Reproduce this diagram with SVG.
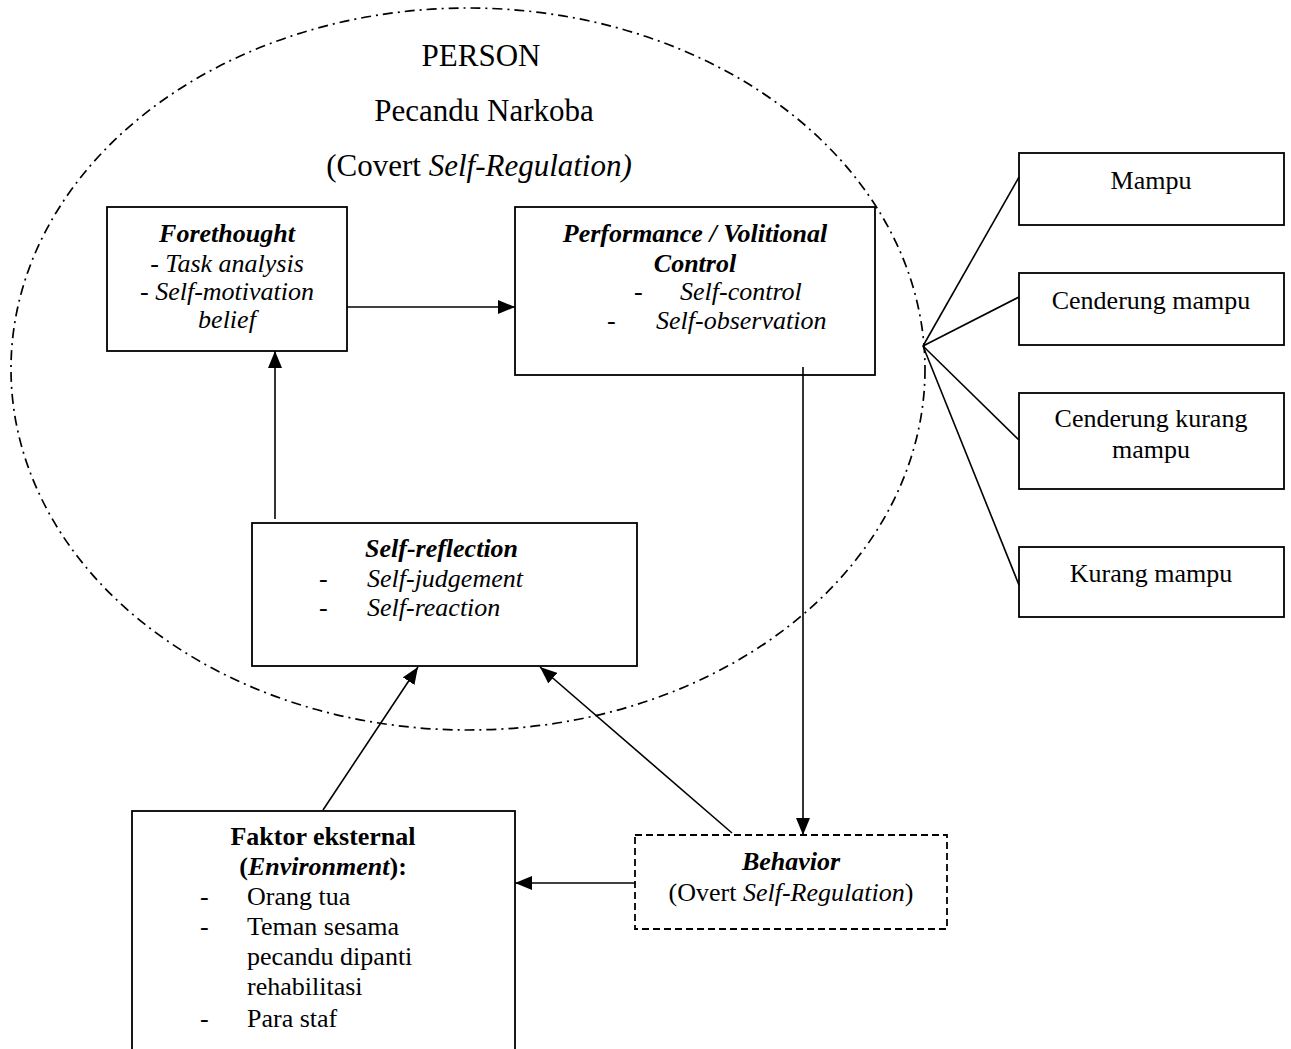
<svg xmlns="http://www.w3.org/2000/svg" width="1291" height="1049" viewBox="0 0 1291 1049">
<style>
text{font-family:"Liberation Serif","Times New Roman",serif;font-size:26px;fill:#000}
.h{font-size:31px}
.c{text-anchor:middle}
.i{font-style:italic}
.b{font-weight:bold}
.box{fill:#fff;stroke:#000;stroke-width:1.8}
.dash{fill:#fff;stroke:#000;stroke-width:1.8;stroke-dasharray:7 4}
.ln{stroke:#000;stroke-width:1.6;fill:none}
.arr{stroke:#000;stroke-width:1.6;fill:none;marker-end:url(#ah)}
</style>
<defs>
<marker id="ah" markerUnits="userSpaceOnUse" markerWidth="18" markerHeight="14" refX="17" refY="7" orient="auto">
<path d="M0,0 L17,7 L0,14 Z" fill="#000"/>
</marker>
</defs>
<rect width="1291" height="1049" fill="#fff"/>
<g id="person">
<ellipse cx="468" cy="369" rx="457" ry="361" fill="none" stroke="#000" stroke-width="1.7" stroke-dasharray="10 5 2 5"/>
<text class="h c" x="481" y="66">PERSON</text>
<text class="h c" x="484" y="121">Pecandu Narkoba</text>
<text class="h c" x="479" y="176">(Covert <tspan class="i">Self-Regulation)</tspan></text>
</g>
<g id="forethought">
<rect class="box" x="107" y="207" width="240" height="144"/>
<text class="c i b" x="227" y="242">Forethought</text>
<text class="c i" x="227" y="272">- Task analysis</text>
<text class="c i" x="227" y="300">- Self-motivation</text>
<text class="c i" x="227" y="328">belief</text>
</g>
<g id="performance">
<rect class="box" x="515" y="207" width="360" height="168"/>
<text class="c i b" x="695" y="242">Performance / Volitional</text>
<text class="c i b" x="695" y="272">Control</text>
<text x="634" y="300">-</text>
<text class="i" x="680" y="300">Self-control</text>
<text x="607" y="329">-</text>
<text class="i" x="656" y="329">Self-observation</text>
</g>
<g id="selfreflection">
<rect class="box" x="252" y="523" width="385" height="143"/>
<text class="i b" x="365" y="557">Self-reflection</text>
<text x="319" y="587">-</text>
<text class="i" x="367" y="587">Self-judgement</text>
<text x="319" y="616">-</text>
<text class="i" x="367" y="616">Self-reaction</text>
</g>
<g id="faktor">
<rect class="box" x="132" y="811" width="383" height="260"/>
<text class="c b" x="323" y="845">Faktor eksternal</text>
<text class="c b" x="323" y="875">(<tspan class="i">Environment</tspan>):</text>
<text x="200" y="905">-</text>
<text x="247" y="905">Orang tua</text>
<text x="200" y="935">-</text>
<text x="247" y="935">Teman sesama</text>
<text x="247" y="965">pecandu dipanti</text>
<text x="247" y="995">rehabilitasi</text>
<text x="200" y="1027">-</text>
<text x="247" y="1027">Para staf</text>
</g>
<g id="behavior">
<rect class="dash" x="635" y="835" width="312" height="94"/>
<text class="c i b" x="791" y="870">Behavior</text>
<text class="c" x="791" y="901">(Overt <tspan class="i">Self-Regulation</tspan>)</text>
</g>
<g id="mampu">
<rect class="box" x="1019" y="153" width="265" height="72"/>
<text class="c" x="1151" y="189">Mampu</text>
</g>
<g id="cenderung-mampu">
<rect class="box" x="1019" y="273" width="265" height="72"/>
<text class="c" x="1151" y="309">Cenderung mampu</text>
</g>
<g id="cenderung-kurang-mampu">
<rect class="box" x="1019" y="393" width="265" height="96"/>
<text class="c" x="1151" y="427">Cenderung kurang</text>
<text class="c" x="1151" y="458">mampu</text>
</g>
<g id="kurang-mampu">
<rect class="box" x="1019" y="547" width="265" height="70"/>
<text class="c" x="1151" y="582">Kurang mampu</text>
</g>
<g id="connectors">
<line class="arr" x1="347" y1="307" x2="515" y2="307"/>
<line class="arr" x1="275" y1="519" x2="275" y2="351"/>
<line class="arr" x1="803" y1="367" x2="803" y2="835"/>
<line class="arr" x1="635" y1="883" x2="515" y2="883"/>
<line class="arr" x1="323" y1="810" x2="418" y2="667"/>
<line class="arr" x1="732" y1="833" x2="540" y2="667"/>
<line class="ln" x1="923" y1="346" x2="1019" y2="177"/>
<line class="ln" x1="923" y1="346" x2="1019" y2="297"/>
<line class="ln" x1="923" y1="346" x2="1019" y2="440"/>
<line class="ln" x1="923" y1="346" x2="1019" y2="585"/>
</g>
</svg>
